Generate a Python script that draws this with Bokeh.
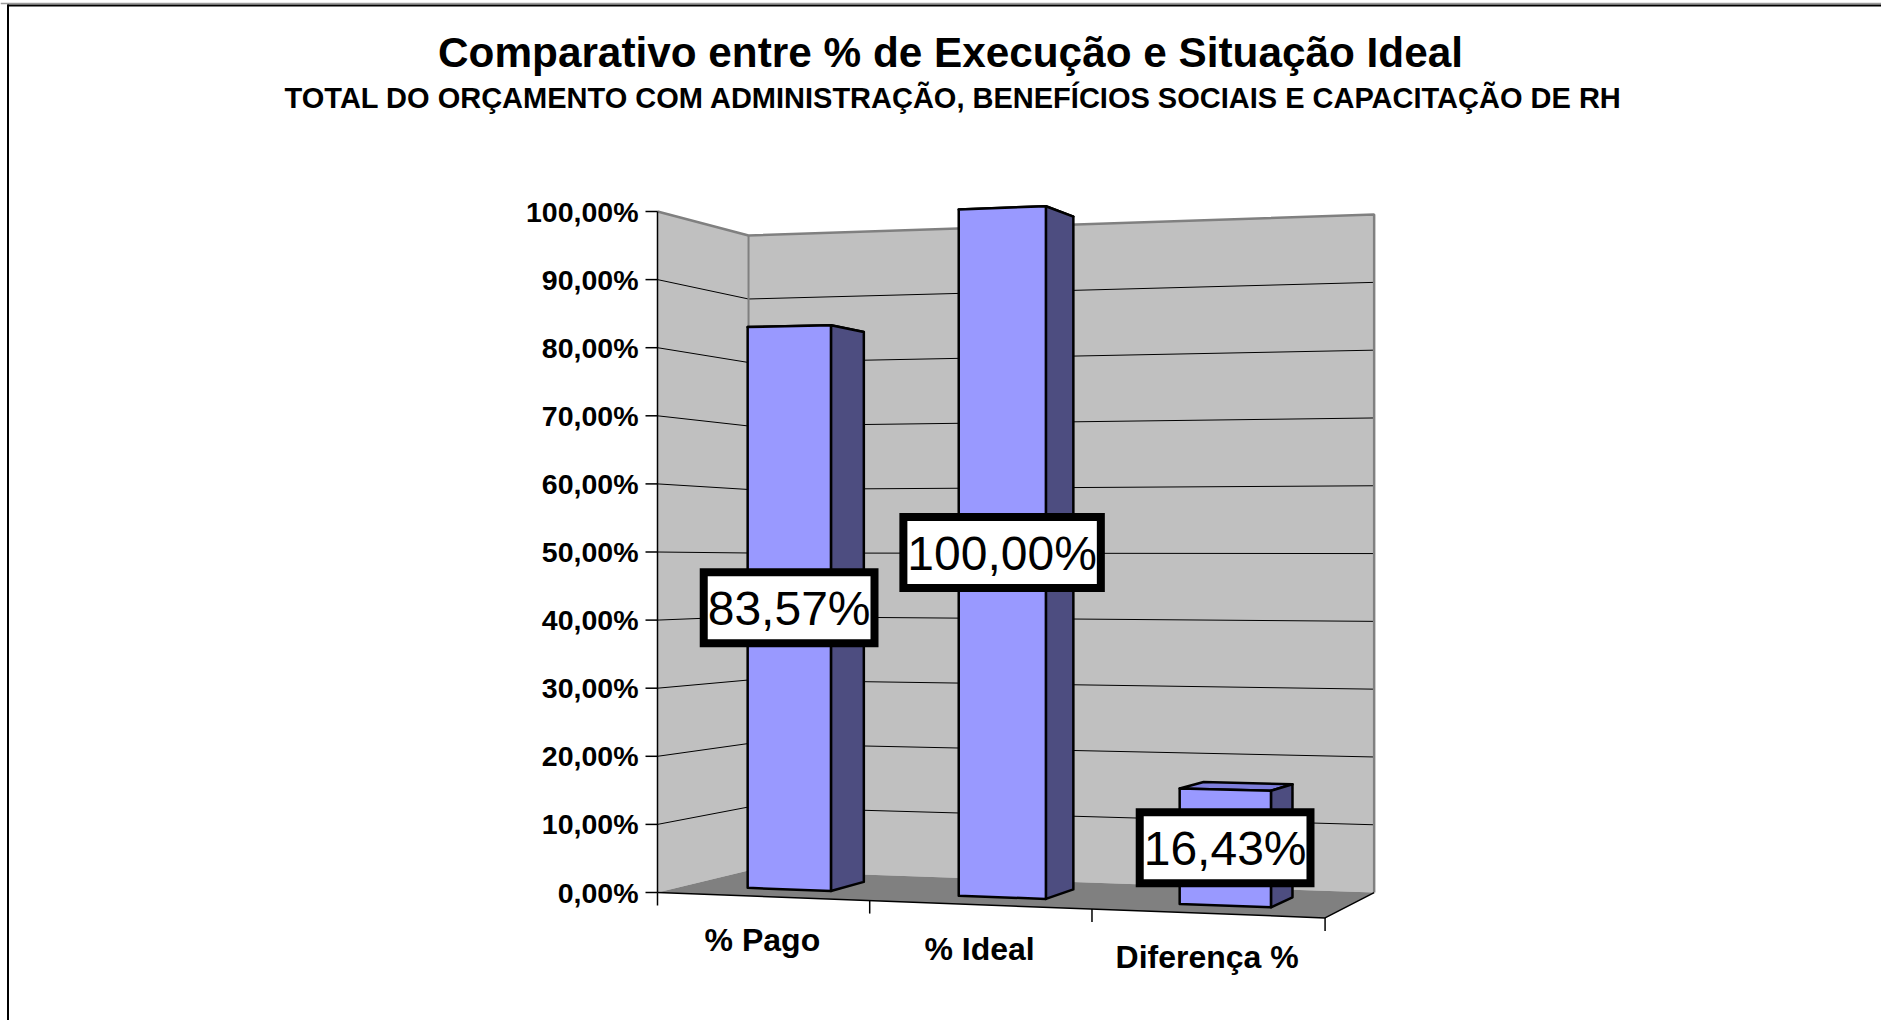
from bokeh.plotting import figure
from bokeh.models import Range1d, ColumnDataSource
from bokeh.core.properties import value
from bokeh.embed import file_html
from bokeh.resources import INLINE

# ---------------- data ----------------
title = "Comparativo entre % de Execução e Situação Ideal"
subtitle = "TOTAL DO ORÇAMENTO COM ADMINISTRAÇÃO, BENEFÍCIOS SOCIAIS E CAPACITAÇÃO DE RH"
categories = ["% Pago", "% Ideal", "Diferença %"]
values = [83.57, 100.00, 16.43]
value_labels = ["83,57%", "100,00%", "16,43%"]
y_ticks = [0, 10, 20, 30, 40, 50, 60, 70, 80, 90, 100]
y_tick_labels = ["0,00%", "10,00%", "20,00%", "30,00%", "40,00%", "50,00%",
                 "60,00%", "70,00%", "80,00%", "90,00%", "100,00%"]
y_max = 100.0

# ---------------- 3D perspective projection (screen space) ----------------
A1, A2, A3 = 577.5, 145.2, 657.0
B1, B2, B3 = -37.0, 41.0, 892.0
K = -681.0
C1, C2 = -0.068, 0.0724


def proj(u, w, v):
    den = 1.0 + C1 * u + C2 * w
    return (A1 * u + A2 * w + A3) / den, (B1 * u + B2 * w + B3 + K * v) / den


def poly(pts):
    xs, ys = [], []
    for u, w, v in pts:
        x, y = proj(u, w, v)
        xs.append(x)
        ys.append(y)
    return xs, ys


W, H = 1881, 1020
p = figure(width=W, height=H, x_range=Range1d(0, W), y_range=Range1d(H, 0),
           x_axis_type=None, y_axis_type=None, toolbar_location=None,
           output_backend="svg", min_border=0)
p.outline_line_color = None
p.grid.visible = False
p.background_fill_color = "white"
p.border_fill_color = "white"

FONT = value("Liberation Sans")

# chart border (top / left visible)
p.segment(x0=[0], y0=[3], x1=[W], y1=[3], line_color="#9a9a9a", line_width=1.5)
p.segment(x0=[7, 7.5], y0=[5, 4], x1=[W, 7.5], y1=[5, H], line_color="black", line_width=2)

# ---------------- walls & floor ----------------
n = len(categories)
wall_col = "#C0C0C0"
lx, ly = poly([(0, 0, 0), (0, 0, 1), (0, 1, 1), (0, 1, 0)])
bx, by = poly([(0, 1, 0), (0, 1, 1), (1, 1, 1), (1, 1, 0)])
fx, fy = poly([(0, 0, 0), (1, 0, 0), (1, 1, 0), (0, 1, 0)])
p.patches(xs=[lx, bx], ys=[ly, by], fill_color=wall_col, line_color=None)
p.patch(x=fx, y=fy, fill_color="#808080", line_color=None)

# gridlines
gxs, gys = [], []
for t in y_ticks:
    if t in (0, y_max):
        continue
    xs, ys = poly([(0, 0, t / y_max), (0, 1, t / y_max), (1, 1, t / y_max)])
    gxs.append(xs)
    gys.append(ys)
p.multi_line(xs=gxs, ys=gys, line_color="black", line_width=1)

# wall borders (gray)
ex, ey = poly([(0, 0, 1), (0, 1, 1), (1, 1, 1), (1, 1, 0)])
p.line(x=ex, y=ey, line_color="#808080", line_width=2.5)
vx, vy = poly([(0, 1, 0), (0, 1, 1)])
p.line(x=vx, y=vy, line_color="#808080", line_width=2)

# floor front & right edges
frx, fry = poly([(0, 0, 0), (1, 0, 0), (1, 1, 0)])
p.line(x=frx, y=fry, line_color="black", line_width=1.5)

# value axis line + ticks + labels
ax, ay = poly([(0, 0, 0), (0, 0, 1)])
p.line(x=ax, y=ay, line_color="black", line_width=1.5)
tx0, ty0, tl = [], [], []
for t, lab in zip(y_ticks, y_tick_labels):
    x, y = proj(0, 0, t / y_max)
    tx0.append(x)
    ty0.append(y)
    tl.append(lab)
p.segment(x0=[x - 12 for x in tx0], y0=ty0, x1=tx0, y1=ty0, line_color="black", line_width=1.5)
p.text(x=[x - 19 for x in tx0], y=ty0, text=tl,
       text_font=FONT, text_font_style="bold", text_font_size="28.5px",
       text_align="right", text_baseline="alphabetic", text_color="black")

# category ticks
cx0, cy0 = [], []
for i in range(n + 1):
    x, y = proj(i / n, 0, 0)
    cx0.append(x)
    cy0.append(y)
p.segment(x0=cx0, y0=cy0, x1=cx0, y1=[y + 13 for y in cy0], line_color="black", line_width=1.5)

# category labels
clx, cly = [], []
for i in range(n):
    x, y = proj((i + 0.5) / n, 0, 0)
    clx.append(x)
    cly.append(y + 44)
p.text(x=clx, y=cly, text=categories, text_font=FONT, text_font_style="bold",
       text_font_size="32px", text_align="center", text_baseline="alphabetic",
       text_color="black")

# ---------------- bars ----------------
bar_w = 0.4      # fraction of category width
w_front, w_back = 0.3, 0.7
front_col, side_col, top_col = "#9999FF", "#4D4D80", "#7E7EDC"
pxs, pys, pcols = [], [], []
for i, val in enumerate(values):
    ul = (i + 0.5 - bar_w / 2) / n
    ur = (i + 0.5 + bar_w / 2) / n
    v = val / y_max
    top = poly([(ul, w_front, v), (ur, w_front, v), (ur, w_back, v), (ul, w_back, v)])
    side = poly([(ur, w_front, 0), (ur, w_back, 0), (ur, w_back, v), (ur, w_front, v)])
    front = poly([(ul, w_front, 0), (ur, w_front, 0), (ur, w_front, v), (ul, w_front, v)])
    for (xs, ys), col in ((top, top_col), (side, side_col), (front, front_col)):
        pxs.append(xs)
        pys.append(ys)
        pcols.append(col)
p.patches(xs=pxs, ys=pys, fill_color=pcols, line_color="black", line_width=2.5,
          line_join="round")

# ---------------- data labels ----------------
CW = {"0": 0.556, "1": 0.556, "2": 0.556, "3": 0.556, "4": 0.556, "5": 0.556,
      "6": 0.556, "7": 0.556, "8": 0.556, "9": 0.556, ",": 0.278, "%": 0.889}
fs = 48
lx_, ly_, lw_ = [], [], []
for i, (val, lab) in enumerate(zip(values, value_labels)):
    x, y = proj((i + 0.5) / n, w_front, val / y_max / 2)
    lx_.append(x)
    ly_.append(y)
    lw_.append(sum(CW.get(c, 0.556) for c in lab) * fs + 8)
src = ColumnDataSource(dict(x=lx_, y=ly_, w=lw_, ty=[y + 1 for y in ly_], t=value_labels))
p.rect(x="x", y="y", width="w", height=71, source=src, fill_color="white",
       line_color="black", line_width=8, line_join="miter")
p.text(x="x", y="ty", text="t", source=src, text_font=FONT, text_font_size=f"{fs}px",
       text_align="center", text_baseline="alphabetic", text_color="black")

# ---------------- titles ----------------
p.text(x=[950], y=[52], text=[title], text_font=FONT, text_font_style="bold",
       text_font_size="42.3px", text_align="center", text_baseline="alphabetic",
       text_color="black")
p.text(x=[953], y=[97], text=[subtitle], text_font=FONT, text_font_style="bold",
       text_font_size="29px", text_align="center", text_baseline="alphabetic",
       text_color="black")

open("out.html", "w").write(file_html(p, INLINE))
